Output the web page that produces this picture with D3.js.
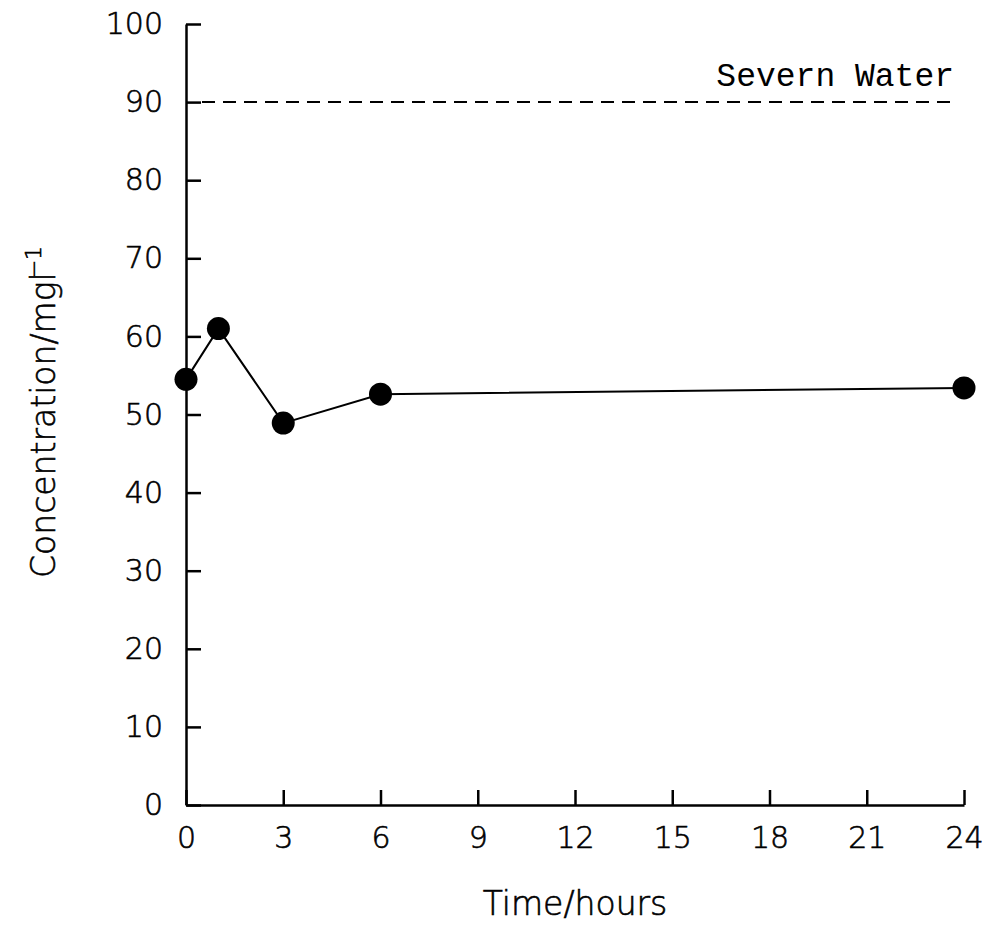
<!DOCTYPE html>
<html>
<head>
<meta charset="utf-8">
<script src="https://cdn.jsdelivr.net/npm/d3@7"></script>
<style>
  body { margin: 0; background: #fff; }
  svg { display: block; }
</style>
</head>
<body>
<svg id="chart" width="989" height="930"></svg>
<script>
// data
const hours = [0, 1, 3, 6, 24];
const concentration = [54.5, 61, 48.9, 52.6, 53.4];
const xTicks = [0, 3, 6, 9, 12, 15, 18, 21, 24];
const yTicks = [0, 10, 20, 30, 40, 50, 60, 70, 80, 90, 100];
const refLevel = [90];
const refLabel = ["Severn Water"];

const svg = d3.select("#chart");
const fontSans = "'DejaVu Sans', sans-serif";
const fontWeight = 200;

let xScale = d3.scaleLinear().domain([0, 24]).range([186, 964]);
let yScale = d3.scaleLinear().domain([0, 100]).range([805, 24]);

let points = hours.map((h, i) => ({ h: h, c: concentration[i] }));

function thinText(sel, size) {
    return sel.attr("fill", "#000")
            .attr("stroke", "#000")
            .attr("stroke-width", 0.6)
            .attr("font-family", fontSans)
            .attr("font-weight", fontWeight)
            .attr("font-size", size);
}

// axes, ticks point inwards
let yAxis = d3.axisLeft(yScale)
        .tickValues(yTicks)
        .tickSize(-15)
        .tickSizeOuter(0)
        .tickPadding(23);
let xAxis = d3.axisBottom(xScale)
        .tickValues(xTicks)
        .tickSize(-15)
        .tickSizeOuter(0)
        .tickPadding(22);

let gy = svg.append("g")
        .attr("transform", `translate(${xScale(0)},0)`)
        .call(yAxis);
let gx = svg.append("g")
        .attr("transform", `translate(0,${yScale(0)})`)
        .call(xAxis);

[gx, gy].forEach(g => {
    g.select(".domain").attr("stroke", "#000").attr("stroke-width", 2.5);
    g.selectAll(".tick line").attr("stroke", "#000").attr("stroke-width", 2.5);
    thinText(g.selectAll(".tick text"), 30);
});

// reference line
svg.selectAll(".ref")
        .data(refLevel)
        .enter().append("line")
        .attr("class", "ref")
        .attr("x1", xScale(0) + 16)
        .attr("x2", xScale(24) - 6)
        .attr("y1", d => yScale(d))
        .attr("y2", d => yScale(d))
        .attr("stroke", "#000")
        .attr("stroke-width", 2)
        .attr("stroke-dasharray", "13,8");

svg.selectAll(".refLabel")
        .data(refLabel)
        .enter().append("text")
        .attr("class", "refLabel")
        .attr("x", xScale(24) - 10)
        .attr("y", yScale(refLevel[0]) - 16)
        .attr("text-anchor", "end")
        .attr("font-family", "'Liberation Mono', 'Courier New', monospace")
        .attr("font-size", 33)
        .attr("fill", "#000")
        .text(d => d);

// series
let line = d3.line()
        .x(d => xScale(d.h))
        .y(d => yScale(d.c));

svg.append("path")
        .datum(points)
        .attr("d", line)
        .attr("fill", "none")
        .attr("stroke", "#000")
        .attr("stroke-width", 2);

svg.selectAll(".dot")
        .data(points)
        .enter().append("circle")
        .attr("class", "dot")
        .attr("cx", d => xScale(d.h))
        .attr("cy", d => yScale(d.c))
        .attr("r", 11.5)
        .attr("fill", "#000");

// axis titles
thinText(svg.append("text"), 33)
        .attr("x", (xScale(0) + xScale(24)) / 2)
        .attr("y", 915)
        .attr("text-anchor", "middle")
        .text("Time/hours");

let yTitle = thinText(svg.append("text"), 33)
        .attr("transform", "translate(55,578) rotate(-90)")
        .attr("text-anchor", "start");
yTitle.append("tspan").text("Concentration/mgl");
yTitle.append("tspan")
        .attr("dy", -14)
        .attr("dx", -6)
        .attr("font-size", 22)
        .text("\u22121");
</script>
</body>
</html>
